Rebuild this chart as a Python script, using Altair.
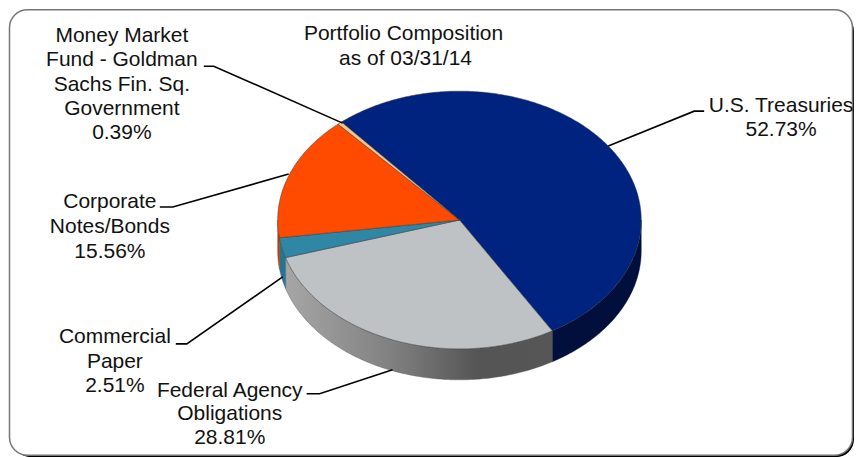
import numpy as np
import pandas as pd
import altair as alt

# ---- values ----
categories = ["U.S. Treasuries", "Federal Agency Obligations", "Commercial Paper",
              "Corporate Notes/Bonds", "Money Market Fund"]
shares = [52.73, 28.81, 2.51, 15.56, 0.39]
top_colors = ["#00237f", "#bfc2c5", "#2f87a5", "#ff4b00", "#f5c48f"]
side_colors = ["#000f3c", None, "#2a7390", "#b83c00", "#cc9a60"]

label_text = ["Money Market", "Fund - Goldman", "Sachs Fin. Sq.", "Government", "0.39%",
              "Portfolio Composition", "as of 03/31/14",
              "U.S. Treasuries", "52.73%",
              "Corporate", "Notes/Bonds", "15.56%",
              "Commercial", "Paper", "2.51%",
              "Federal Agency", "Obligations", "28.81%"]
label_x = [121, 121, 121, 121, 121, 403, 405, 781, 781, 109, 109, 109, 114, 114, 114, 229, 229, 229]
label_y = [41, 65, 90, 114, 138, 39, 64, 111, 135, 207, 232, 257, 342, 367, 391, 396, 419, 443]

leaders = [
    [(203, 65), (213, 65), (342, 122)],
    [(704, 110), (694, 110), (608, 145)],
    [(159, 206), (172, 206), (288, 173)],
    [(175, 343), (186, 343), (282, 276)],
    [(306, 393), (319, 393), (392, 369)],
]

# ---- pie geometry ----
CX, CY, RX, RY, DEPTH = 459, 219, 182, 129, 31
START = -40.5

X = alt.X("x:Q", scale=alt.Scale(domain=[8, 854], nice=False, zero=False), axis=None)
Y = alt.Y("y:Q", scale=alt.Scale(domain=[457, 8], nice=False, zero=False), axis=None)


def rim(a, b, dy=0.0):
    t = np.radians(np.linspace(a, b, max(int(abs(b - a) * 1.5), 2) + 1))
    return list(zip(CX + RX * np.sin(t), CY + dy - RY * np.cos(t)))


def poly(points, **mark):
    df = pd.DataFrame(points, columns=["x", "y"])
    df["i"] = range(len(df))
    return alt.Chart(df).mark_line(**mark).encode(x=X, y=Y, order="i:Q")


def box(x, x2, y, y2, **mark):
    df = pd.DataFrame({"x": [x], "x2": [x2], "y": [y], "y2": [y2]})
    return alt.Chart(df).mark_rect(**mark).encode(x=X, x2="x2:Q", y=Y, y2="y2:Q")


layers = [
    box(12, 854, 12, 456.5, fill="#000000", cornerRadius=18),
    box(8.5, 852.5, 8.5, 454.5, fill="#ffffff", stroke="#777777", strokeWidth=1.5, cornerRadius=18),
]

grey_side = alt.Gradient(
    gradient="linear", x1=0, x2=1, y1=0, y2=0,
    stops=[
        alt.GradientStop(color="#a6a6a6", offset=0),
        alt.GradientStop(color="#808080", offset=0.4),
        alt.GradientStop(color="#555555", offset=0.72),
        alt.GradientStop(color="#565656", offset=1),
    ],
)

edges = np.cumsum([0] + list(shares)) * 360 / sum(shares) + START

# side walls: only the front half of the rim (90 to 270 degrees) shows
for i in range(len(shares)):
    a, b = max(edges[i], 90), min(edges[i + 1], 270)
    if a >= b:
        continue
    pts = rim(a, b) + rim(b, a, DEPTH)
    pts.append(pts[0])
    fill = side_colors[i] if side_colors[i] else grey_side
    stroke = side_colors[i] if side_colors[i] else "#555555"
    layers.append(poly(pts, fill=fill, stroke=stroke, strokeWidth=0.4))

# top faces
for i in range(len(shares)):
    pts = [(CX, CY)] + rim(edges[i], edges[i + 1]) + [(CX, CY)]
    layers.append(poly(pts, fill=top_colors[i], stroke="#333333", strokeWidth=0.6, strokeOpacity=0.8))

for pts in leaders:
    layers.append(poly(pts, stroke="#000000", strokeWidth=1.6))

labels = pd.DataFrame({"x": label_x, "y": label_y, "t": label_text})
layers.append(
    alt.Chart(labels)
    .mark_text(font="Liberation Sans", fontSize=21, color="#111111", align="center", baseline="alphabetic")
    .encode(x=X, y=Y, text="t:N")
)

chart = (
    alt.layer(*layers)
    .properties(width=846, height=449, padding=0, background="#ffffff")
    .configure_view(stroke=None)
)

chart.save("out.html", embed_options={"renderer": "svg", "actions": False})
